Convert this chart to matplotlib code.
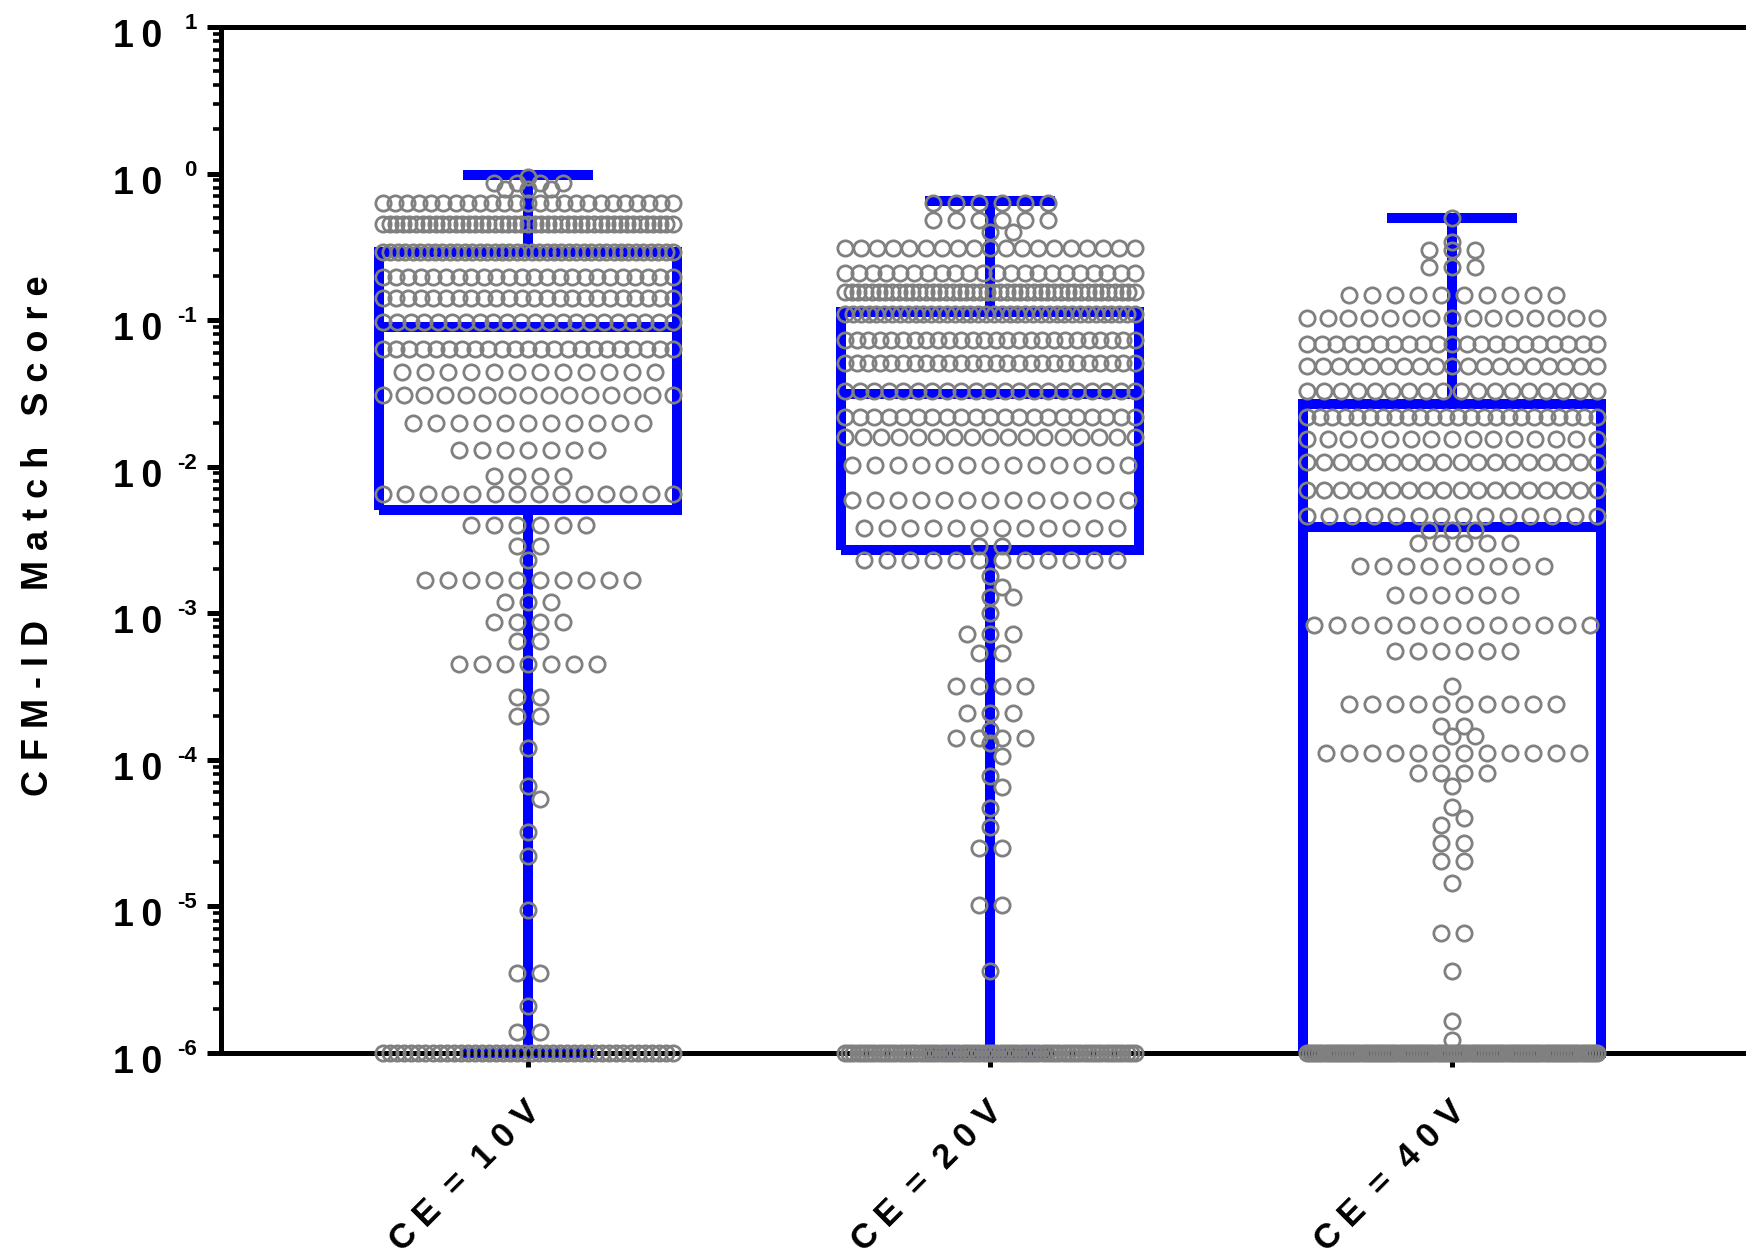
import numpy as np
import matplotlib.pyplot as plt
from matplotlib.ticker import LogLocator, NullFormatter

plt.rcParams['font.family'] = ['Liberation Sans', 'DejaVu Sans']
plt.rcParams['font.weight'] = 'bold'

# categories
groups = ["CE = 10V", "CE = 20V", "CE = 40V"]
group_labels = ["C E  =  1 0 V", "C E  =  2 0 V", "C E  =  4 0 V"]

# box summaries
whisk_lo = [1e-6, 1e-6, 1e-6]
q1 = [0.0051, 0.0027, 1e-6]
med = [0.090, 0.0314, 0.0039]
q3 = [0.29, 0.114, 0.0268]
whisk_hi = [0.98, 0.65, 0.50]

# match scores, read as rows of the scatter: row value and number of points in it
ce10_vals = [0.95, 0.86, 0.79, 0.63, 0.45, 0.29, 0.197, 0.142, 0.097, 0.064,
             0.044, 0.031, 0.020, 0.013, 0.0087, 0.0065, 0.0040, 0.0029, 0.0023,
             0.0017, 0.0012, 0.00087, 0.00065, 0.00045, 0.00027, 0.00020,
             0.00012, 6.6e-5, 5.4e-5, 3.2e-5, 2.2e-5, 9.5e-6, 3.5e-6, 2.1e-6,
             1.4e-6, 1e-6]
ce10_counts = [1, 4, 3, 25, 45, 40, 24, 24, 22, 23,
               12, 15, 11, 7, 4, 14, 6, 2, 1,
               10, 3, 4, 2, 7, 2, 2,
               1, 1, 1, 1, 1, 1, 2, 1,
               2, 42]

ce20_vals = [0.63, 0.48, 0.40, 0.31, 0.21, 0.155, 0.11, 0.073, 0.051, 0.033,
             0.022, 0.016, 0.0103, 0.0059, 0.0038, 0.0029, 0.0023, 0.0018,
             0.0015, 0.0013, 0.0010, 0.00072, 0.00054, 0.00032, 0.00021,
             0.00016, 0.00014, 0.00013, 0.000107, 7.8e-5, 6.5e-5, 4.7e-5,
             3.5e-5, 2.5e-5, 1.03e-5, 3.6e-6, 1e-6]
ce20_counts = [6, 6, 2, 19, 22, 44, 38, 26, 26, 21,
               21, 17, 13, 13, 12, 2, 12, 1,
               1, 2, 1, 3, 2, 4, 3,
               1, 4, 1, 1, 1, 1, 1,
               1, 2, 2, 1, 70]

ce40_vals = [0.50, 0.34, 0.30, 0.23, 0.148, 0.104, 0.069, 0.049, 0.033, 0.022,
             0.0155, 0.0108, 0.0069, 0.0046, 0.0037, 0.0030, 0.0021, 0.00134,
             0.00083, 0.00055, 0.00032, 0.00024, 0.00017, 0.000145, 0.000112,
             8.1e-5, 6.6e-5, 4.8e-5, 4.0e-5, 3.6e-5, 2.7e-5, 2.05e-5, 1.45e-5,
             6.6e-6, 3.6e-6, 1.66e-6, 1.23e-6, 1e-6]
ce40_counts = [1, 1, 3, 3, 10, 15, 21, 19, 18, 24,
               15, 18, 18, 14, 3, 5, 9, 6,
               13, 6, 1, 10, 2, 2, 12,
               4, 1, 1, 1, 1, 2, 2, 1,
               2, 1, 1, 1, 95]

decades = [-6, -5, -4, -3, -2, -1, 0, 1]

BLUE = '#0000FF'
GREY = '#808080'


def swarm(ax, x0, vals, counts, step=23.0, width=290.0, diam=15.0):
    """Lay the rows out side by side in pixel space, return data coords."""
    x0_px = ax.transData.transform((x0, 1.0))[0]
    px_per_unit = ax.transData.transform((1.0, 1.0))[0] - ax.transData.transform((0.0, 1.0))[0]
    placed = []
    xs, ys = [], []
    for v, n in zip(vals, counts):
        y_px = ax.transData.transform((x0, v))[1]
        s = step if n == 1 else min(step, width / (n - 1))
        base = (np.arange(n) - (n - 1) / 2) * s
        shift = 0.0
        if s >= diam and placed:
            P = np.array(placed)
            near = P[np.abs(P[:, 1] - y_px) < diam]
            if len(near):
                for cand in [0, s / 2, -s / 2, s, -s, 1.5 * s, -1.5 * s]:
                    pts = x0_px + base + cand
                    d = np.hypot(pts[:, None] - near[None, :, 0], y_px - near[None, :, 1])
                    if d.min() >= diam * 0.95:
                        shift = cand
                        break
        px = x0_px + base + shift
        for p in px:
            placed.append((p, y_px))
            xs.append(x0 + (p - x0_px) / px_per_unit)
            ys.append(v)
    return xs, ys


def main():
    W, H = 1746, 1259
    fig = plt.figure(figsize=(W / 100, H / 100), dpi=100)
    left, right, top, bottom = 221, W, 27, 1053
    ax = fig.add_axes([left / W, 1 - bottom / H, (right - left) / W, (bottom - top) / H])

    ax.set_yscale('log')
    ax.set_ylim(1e-6, 10)
    ax.set_xlim((left - 528) / 462, (right - 528) / 462)

    # boxes
    stats = []
    for i in range(len(groups)):
        stats.append(dict(whislo=whisk_lo[i], q1=q1[i], med=med[i], q3=q3[i],
                          whishi=whisk_hi[i], fliers=[], label=groups[i]))
    line = dict(color=BLUE, linewidth=7.2, solid_capstyle='butt', solid_joinstyle='miter')
    parts = ax.bxp(stats, positions=range(len(groups)), widths=0.645, capwidths=0.28,
                   showfliers=False, boxprops=line, whiskerprops=line, capprops=line,
                   medianprops=line, zorder=2)
    for key in parts:
        for art in parts[key]:
            art.set_clip_on(False)

    # points
    all_vals = [ce10_vals, ce20_vals, ce40_vals]
    all_counts = [ce10_counts, ce20_counts, ce40_counts]
    for i in range(len(groups)):
        xs, ys = swarm(ax, i, all_vals[i], all_counts[i])
        ax.plot(xs, ys, 'o', mfc='none', mec=GREY, ms=11, mew=2.0,
                zorder=4, clip_on=False)

    # spines and ticks
    for side in ['left', 'bottom', 'top']:
        ax.spines[side].set_linewidth(3.6)
    ax.spines['right'].set_visible(False)
    ax.yaxis.set_major_locator(LogLocator(base=10, numticks=20))
    ax.yaxis.set_minor_locator(LogLocator(base=10, subs=np.arange(2, 10), numticks=20))
    ax.yaxis.set_major_formatter(NullFormatter())
    ax.yaxis.set_minor_formatter(NullFormatter())
    ax.tick_params(axis='y', which='major', direction='out', length=10, width=3.6, right=False)
    ax.tick_params(axis='y', which='minor', direction='out', length=5.5, width=2.6, right=False)
    ax.set_xticks(range(len(groups)))
    ax.set_xticklabels([''] * len(groups))
    ax.tick_params(axis='x', which='major', direction='out', length=10, width=3.6, top=False)

    # y tick labels: "10" with the exponent raised
    for e in decades:
        ax.annotate('1\u20090', xy=(0, 10.0 ** e), xycoords=('axes fraction', 'data'),
                    xytext=(-42.5, -14.4), textcoords='offset points',
                    ha='right', va='baseline', fontsize=27, fontweight='bold')
        ax.annotate(str(e), xy=(0, 10.0 ** e), xycoords=('axes fraction', 'data'),
                    xytext=(-17.3, -1.4), textcoords='offset points',
                    ha='right', va='baseline', fontsize=16, fontweight='bold')

    # x tick labels, rotated
    for i, lab in enumerate(group_labels):
        ax.annotate(lab, xy=(i, 0), xycoords=('data', 'axes fraction'),
                    xytext=(-3, -30), textcoords='offset points',
                    ha='right', va='top', rotation=45, rotation_mode='anchor',
                    fontsize=25, fontweight='bold', annotation_clip=False)

    fig.text(39 / W, 1 - 536 / H, 'C F M - I D   M a t c h   S c o r e',
             rotation=90, ha='center', va='center', fontsize=26, fontweight='bold')

    fig.savefig('out.png', dpi=100)
    plt.close(fig)


if __name__ == "__main__":
    main()
